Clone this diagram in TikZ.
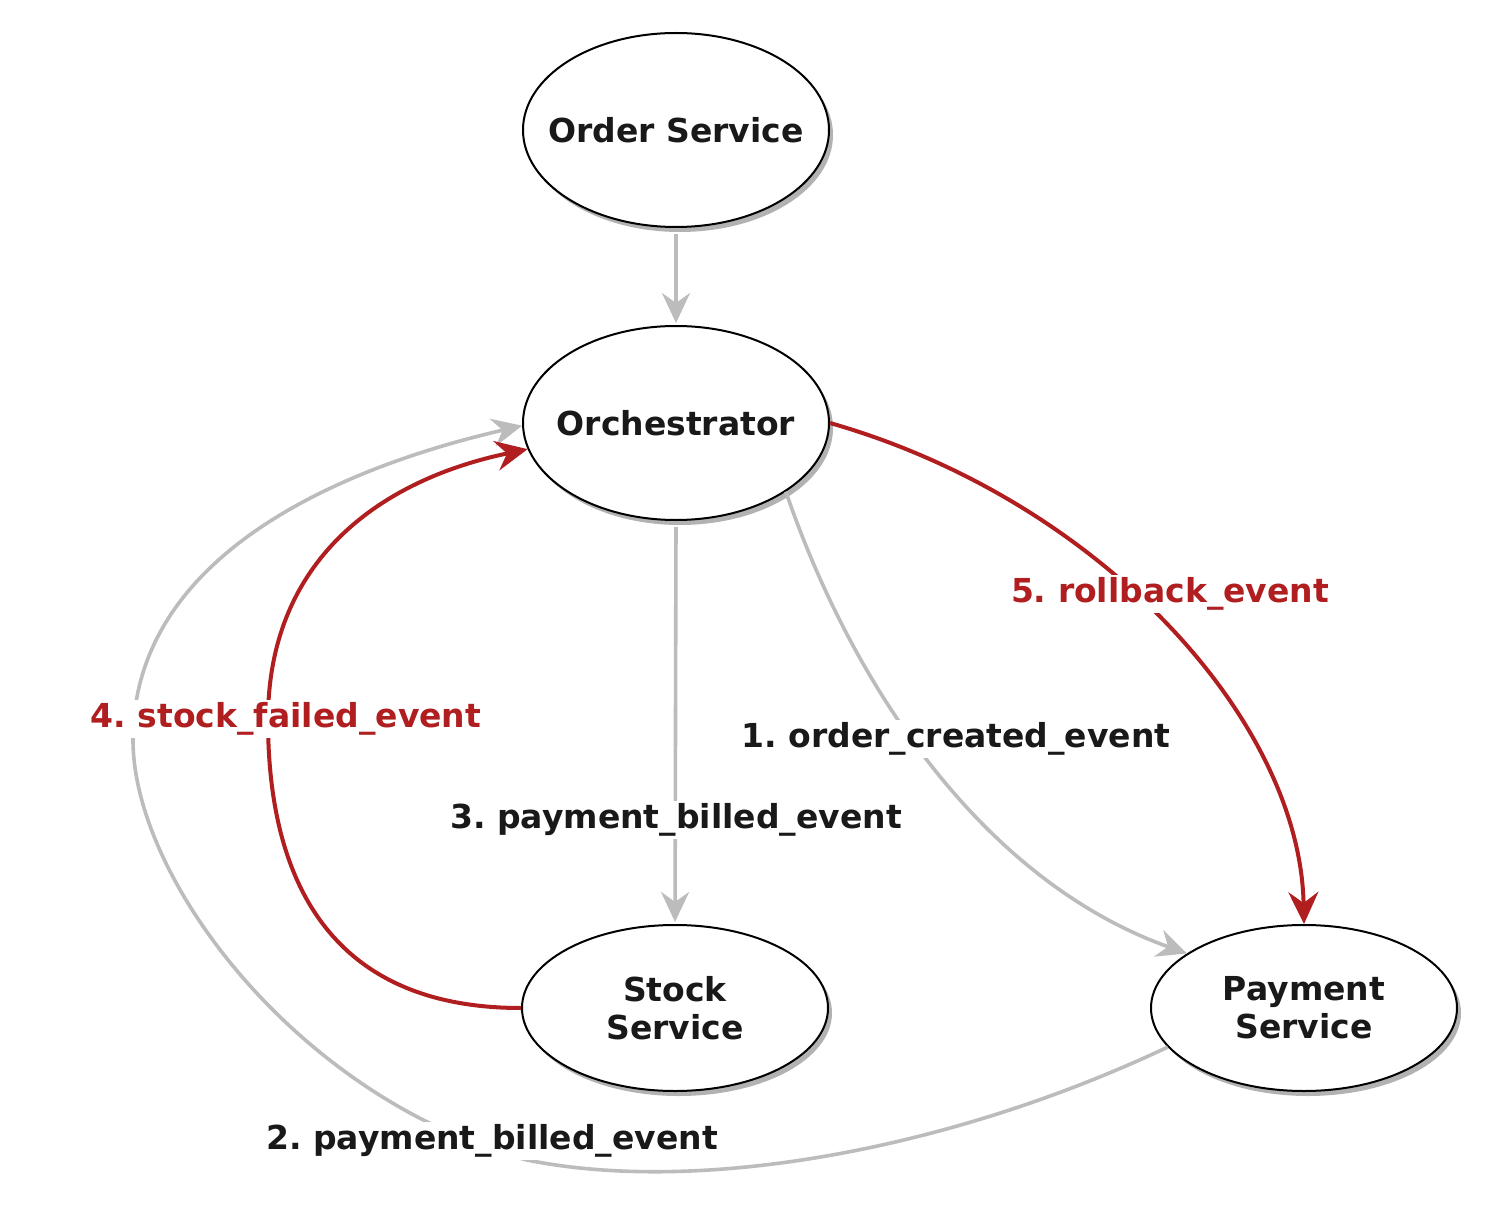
\documentclass[tikz,border=0pt]{standalone}
\usepackage{fontspec}
\setmainfont{DejaVu Sans}
\usetikzlibrary{arrows.meta,shapes.geometric,shadows}
\definecolor{edgegray}{RGB}{188,188,188}
\definecolor{edgered}{RGB}{176,30,32}
\definecolor{txt}{RGB}{25,25,25}
\tikzset{
  svc/.style={ellipse, draw=black, line width=2pt, fill=white,
    inner xsep=-40pt, inner ysep=0pt,
    align=center, text=txt, font=\fontsize{33}{38}\selectfont\bfseries,
    drop shadow={shadow xshift=4pt, shadow yshift=-5pt, opacity=0.6, fill=black!50}},
  bigsvc/.style={svc, minimum width=306pt, minimum height=194pt},
  smallsvc/.style={svc, minimum width=306pt, minimum height=166pt},
  gedge/.style={draw=edgegray, line width=3.6pt,
    -{Stealth[length=30pt,width=28pt,inset=10pt]}},
  redge/.style={draw=edgered, line width=4pt,
    -{Stealth[length=32pt,width=30pt,inset=11pt]}},
  elabel/.style={fill=white, inner sep=3pt, text=txt,
    font=\fontsize{33}{38}\selectfont\bfseries},
  rlabel/.style={elabel, text=edgered}
}
\frenchspacing
\begin{document}
\begin{tikzpicture}[x=1pt,y=-1pt]
\fill[white] (0,0) rectangle (1502,1206);
\useasboundingbox (0,0) rectangle (1502,1206);

\node[bigsvc] (order) at (676,130) {Order Service};
\node[bigsvc] (orch) at (676,423) {Orchestrator};
\node[smallsvc] (stock) at (675,1008) {Stock\\Service};
\node[smallsvc] (pay) at (1304,1008) {Payment\\Service};

% Order -> Orchestrator
\draw[gedge, shorten <=6pt, shorten >=2pt] (order.south) -- (orch.north);
% 3. Orchestrator -> Stock
\draw[gedge, shorten <=6pt, shorten >=2pt] (orch.south) -- (stock.north);
% 1. Orchestrator -> Payment
\draw[gedge] (orch.-32) .. controls (850,680) and (980,880) .. (pay.155);
% 2. Payment -> Orchestrator
\draw[gedge] (pay.196) .. controls (950,1150) and (700,1195) .. (527,1160)
  .. controls (300,1100) and (133,880) .. (133,740)
  .. controls (133,560) and (330,470) .. (orch.181);
% 4. Stock -> Orchestrator (red)
\draw[redge] (stock.west) .. controls (330,1008) and (268,880) .. (268,720)
  .. controls (268,560) and (380,480) .. (orch.190);
% 5. Orchestrator -> Payment (red)
\draw[redge] (orch.east) .. controls (1100,500) and (1300,720) .. (pay.north);

% labels
\node[elabel] (l3) at (676,820) {3. payment\_billed\_event};
\node[elabel] (l1) at (956,739) {1. order\_created\_event};
\node[rlabel] (l5) at (1170,594) {5. rollback\_event};
\node[rlabel] (l4) at (286,719) {4. stock\_failed\_event};
\node[elabel] (l2) at (492,1141) {2. payment\_billed\_event};
\end{tikzpicture}
\end{document}
